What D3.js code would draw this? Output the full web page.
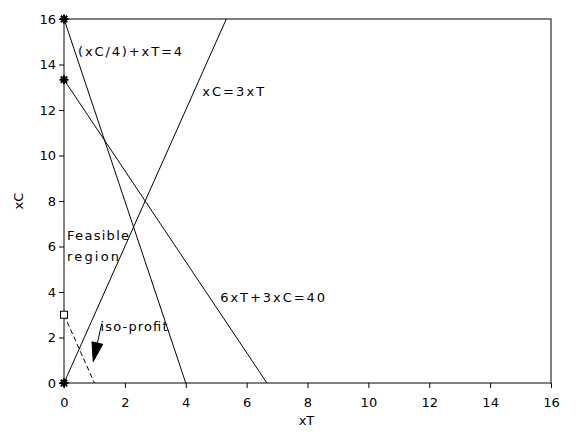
<!DOCTYPE html>
<html>
<head>
<meta charset="utf-8">
<script src="https://cdn.jsdelivr.net/npm/d3@7"></script>
<style>
  body { margin: 0; background: #fff; }
  svg text { font-family: "DejaVu Sans", sans-serif; font-size: 13px; fill: #000; }
</style>
</head>
<body>
<svg id="chart"></svg>
<script>
// constraint lines, each drawn from (x1,y1) to (x2,y2)
const constraintNames = ["(xC/4)+xT=4", "6xT+3xC=40", "xC=3xT"];
const constraintX1 = [0, 0, 0];
const constraintY1 = [16, 13.333, 0];
const constraintX2 = [4, 6.667, 5.333];
const constraintY2 = [0, 0, 16];

// dashed iso-profit line
const isoX = [0, 1];
const isoY = [3, 0];

// corner points marked with stars, start of iso-profit marked with a square
const starX = [0, 0, 0];
const starY = [16, 13.333, 0];
const squareX = [0];
const squareY = [3];

// arrow next to the iso-profit label (from -> to)
const arrowFrom = [1.24, 2.62];
const arrowTo = [0.96, 0.94];

const xTicks = [0, 2, 4, 6, 8, 10, 12, 14, 16];
const yTicks = [0, 2, 4, 6, 8, 10, 12, 14, 16];

const width = 584, height = 434;
const margin = { top: 19, right: 33, bottom: 51, left: 64 };

const svg = d3.select("#chart").attr("width", width).attr("height", height);

const x = d3.scaleLinear().domain([0, 16]).range([margin.left, width - margin.right]);
const y = d3.scaleLinear().domain([0, 16]).range([height - margin.bottom, margin.top]);

// frame
svg.append("rect")
  .attr("x", x(0)).attr("y", y(16))
  .attr("width", x(16) - x(0)).attr("height", y(0) - y(16))
  .attr("fill", "none").attr("stroke", "#000").attr("stroke-width", 1);

// axes
const xAxis = d3.axisBottom(x).tickValues(xTicks).tickSize(5).tickSizeOuter(0).tickPadding(10);
const yAxis = d3.axisLeft(y).tickValues(yTicks).tickSize(5).tickSizeOuter(0).tickPadding(3);

svg.append("g")
  .attr("transform", `translate(0,${y(0)})`)
  .call(xAxis)
  .call(g => g.select(".domain").remove())
  .call(g => g.selectAll("text").attr("font-family", null).attr("font-size", null));

svg.append("g")
  .attr("transform", `translate(${x(0)},0)`)
  .call(yAxis)
  .call(g => g.select(".domain").remove())
  .call(g => g.selectAll("text").attr("font-family", null).attr("font-size", null));

// axis titles
svg.append("text")
  .attr("x", (x(0) + x(16)) / 2 - 1)
  .attr("y", 425)
  .attr("text-anchor", "middle")
  .text("xT");

svg.append("text")
  .attr("transform", `translate(23,${(y(0) + y(16)) / 2}) rotate(-90)`)
  .attr("text-anchor", "middle")
  .text("xC");

// constraint lines
svg.selectAll(".constraint")
  .data(constraintNames)
  .join("line")
  .attr("class", "constraint")
  .attr("x1", (d, i) => x(constraintX1[i]))
  .attr("y1", (d, i) => y(constraintY1[i]))
  .attr("x2", (d, i) => x(constraintX2[i]))
  .attr("y2", (d, i) => y(constraintY2[i]))
  .attr("stroke", "#000")
  .attr("stroke-width", 1);

// iso-profit (dashed)
svg.append("line")
  .attr("x1", x(isoX[0])).attr("y1", y(isoY[0]))
  .attr("x2", x(isoX[1])).attr("y2", y(isoY[1]))
  .attr("stroke", "#000")
  .attr("stroke-width", 1)
  .attr("stroke-dasharray", "5,3");

// star markers
const starPath = (r) => {
  let p = "";
  for (let k = 0; k < 4; k++) {
    const a = k * Math.PI / 4;
    const dx = r * Math.cos(a), dy = r * Math.sin(a);
    p += `M${-dx},${-dy}L${dx},${dy}`;
  }
  return p;
};
svg.selectAll(".star")
  .data(starX)
  .join("path")
  .attr("class", "star")
  .attr("transform", (d, i) => `translate(${x(d)},${y(starY[i])})`)
  .attr("d", starPath(4.5))
  .attr("stroke", "#000")
  .attr("stroke-width", 2);

// square marker
svg.selectAll(".sq")
  .data(squareX)
  .join("rect")
  .attr("class", "sq")
  .attr("x", (d) => x(d) - 3.5)
  .attr("y", (d, i) => y(squareY[i]) - 3.5)
  .attr("width", 7).attr("height", 7)
  .attr("fill", "#fff")
  .attr("stroke", "#000");

// arrow
const ax0 = x(arrowFrom[0]), ay0 = y(arrowFrom[1]);
const ax1 = x(arrowTo[0]), ay1 = y(arrowTo[1]);
const len = Math.hypot(ax1 - ax0, ay1 - ay0);
const ux = (ax1 - ax0) / len, uy = (ay1 - ay0) / len;
const headLen = 19, headHalf = 5.5;
const bx = ax1 - ux * headLen, by = ay1 - uy * headLen;
svg.append("line")
  .attr("x1", ax0).attr("y1", ay0)
  .attr("x2", bx).attr("y2", by)
  .attr("stroke", "#000");
svg.append("path")
  .attr("d", `M${ax1},${ay1}L${bx - uy * headHalf},${by + ux * headHalf}L${bx + uy * headHalf},${by - ux * headHalf}Z`)
  .attr("fill", "#000")
  .attr("stroke", "#000");

// annotations
const notes = [
  { t: constraintNames[0], x: 0.46, y: 14.38, w: 104 },
  { t: constraintNames[2], x: 4.54, y: 12.6, w: 62 },
  { t: constraintNames[1], x: 5.13, y: 3.56, w: 105 },
  { t: "Feasible", x: 0.1, y: 6.3, w: 62 },
  { t: "region", x: 0.1, y: 5.38, w: 52 },
  { t: "iso-profit", x: 1.2, y: 2.3, w: 67 }
];
svg.selectAll(".note")
  .data(notes)
  .join("text")
  .attr("class", "note")
  .attr("x", d => x(d.x))
  .attr("y", d => y(d.y))
  .attr("textLength", d => d.w)
  .attr("lengthAdjust", "spacing")
  .text(d => d.t);
</script>
</body>
</html>
